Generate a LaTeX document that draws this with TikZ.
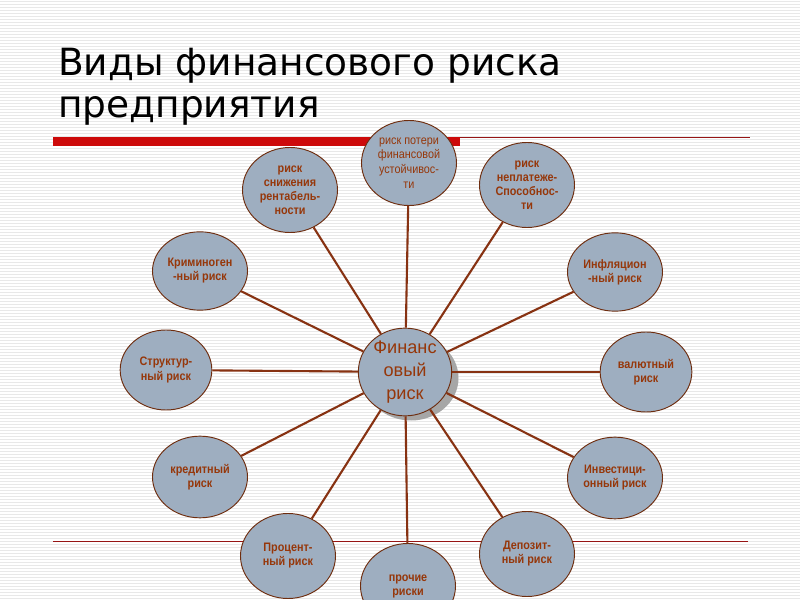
\documentclass[tikz,border=0pt]{standalone}
\usepackage{fontspec}
\setmainfont{Liberation Sans}
\newfontfamily\narrowfont[FakeStretch=0.88]{Liberation Sans}
\newfontfamily\titlefont{DejaVu Sans}
\usepackage{tikz}
\usetikzlibrary{shapes.geometric}
\definecolor{riskfill}{RGB}{158,174,192}
\definecolor{riskedge}{RGB}{110,45,15}
\definecolor{risktext}{RGB}{150,55,10}
\definecolor{spokecol}{RGB}{135,50,18}
\definecolor{barred}{RGB}{205,10,10}
\definecolor{rulered}{RGB}{150,20,20}

\begin{document}
\begin{tikzpicture}[x=0.03cm,y=-0.03cm,
    risk/.style={ellipse, draw=riskedge, line width=0.8pt, fill=riskfill,
      minimum width=2.85cm, minimum height=2.55cm, inner sep=0pt, align=center,
      text=risktext, font=\narrowfont\bfseries\fontsize{10.5}{12}\selectfont},
    spoke/.style={draw=spokecol, line width=1.8pt},
    stripe/.style={draw=black!9, line width=0.5pt}]
    \useasboundingbox (0,0) rectangle (800,600);
    \clip (0,0) rectangle (800,600);
    \fill[white] (0,0) rectangle (800,600);
    \foreach \y in {1,4,...,600}
      \draw[stripe] (0,\y) -- (800,\y);

    % title
    \node [anchor=base west, inner sep=0pt, font=\titlefont\fontsize{32}{38}\selectfont] (title1) at (58,76) {Виды финансового риска};
    \node [anchor=base west, inner sep=0pt, font=\titlefont\fontsize{32}{38}\selectfont] (title2) at (58,118) {предприятия};

    % rules
    \fill [barred] (53,137) rectangle (460,146);
    \draw [rulered, line width=0.8pt] (460,137) -- (750,137);
    \draw [rulered, line width=0.8pt] (53,541) -- (748,541);

    % center
    \node [risk, fill=black!35, draw=none] (shadow) at (411,378) {};
    \node [risk, minimum width=2.8cm, minimum height=2.5cm, font=\fontsize{15.5}{19.5}\selectfont] (fin) at (405,372) {Финанс\\овый\\риск};

    % outer risks
    \node [risk, font=\narrowfont\fontsize{10.5}{12.5}\selectfont] (poteri) at (409,163) {риск потери\\финансовой\\устойчивос-\\ти};
    \node [risk] (rent) at (290,190) {риск\\снижения\\рентабель-\\ности};
    \node [risk] (neplat) at (527,185) {риск\\неплатеже-\\Способнос-\\ти};
    \node [risk, minimum height=2.35cm] (krim) at (200,271) {Криминоген\\-ный риск};
    \node [risk, minimum height=2.35cm] (infl) at (615,272) {Инфляцион\\-ный риск};
    \node [risk, minimum width=2.75cm, minimum height=2.4cm] (struct) at (166,370) {Структур-\\ный риск};
    \node [risk, minimum width=2.75cm, minimum height=2.4cm] (valut) at (646,372) {валютный\\риск};
    \node [risk, minimum height=2.45cm] (kredit) at (200,477) {кредитный\\риск};
    \node [risk, minimum height=2.45cm] (invest) at (615,478) {Инвестици-\\онный риск};
    \node [risk] (procent) at (288,556) {Процент-\\ный риск};
    \node [risk] (prochie) at (408,586) {прочие\\риски};
    \node [risk] (depozit) at (527,554) {Депозит-\\ный риск};

    % spokes
    \foreach \n in {poteri,rent,neplat,krim,infl,struct,valut,kredit,invest,procent,prochie,depozit}
      \draw [spoke] (fin) -- (\n);
\end{tikzpicture}
\end{document}
